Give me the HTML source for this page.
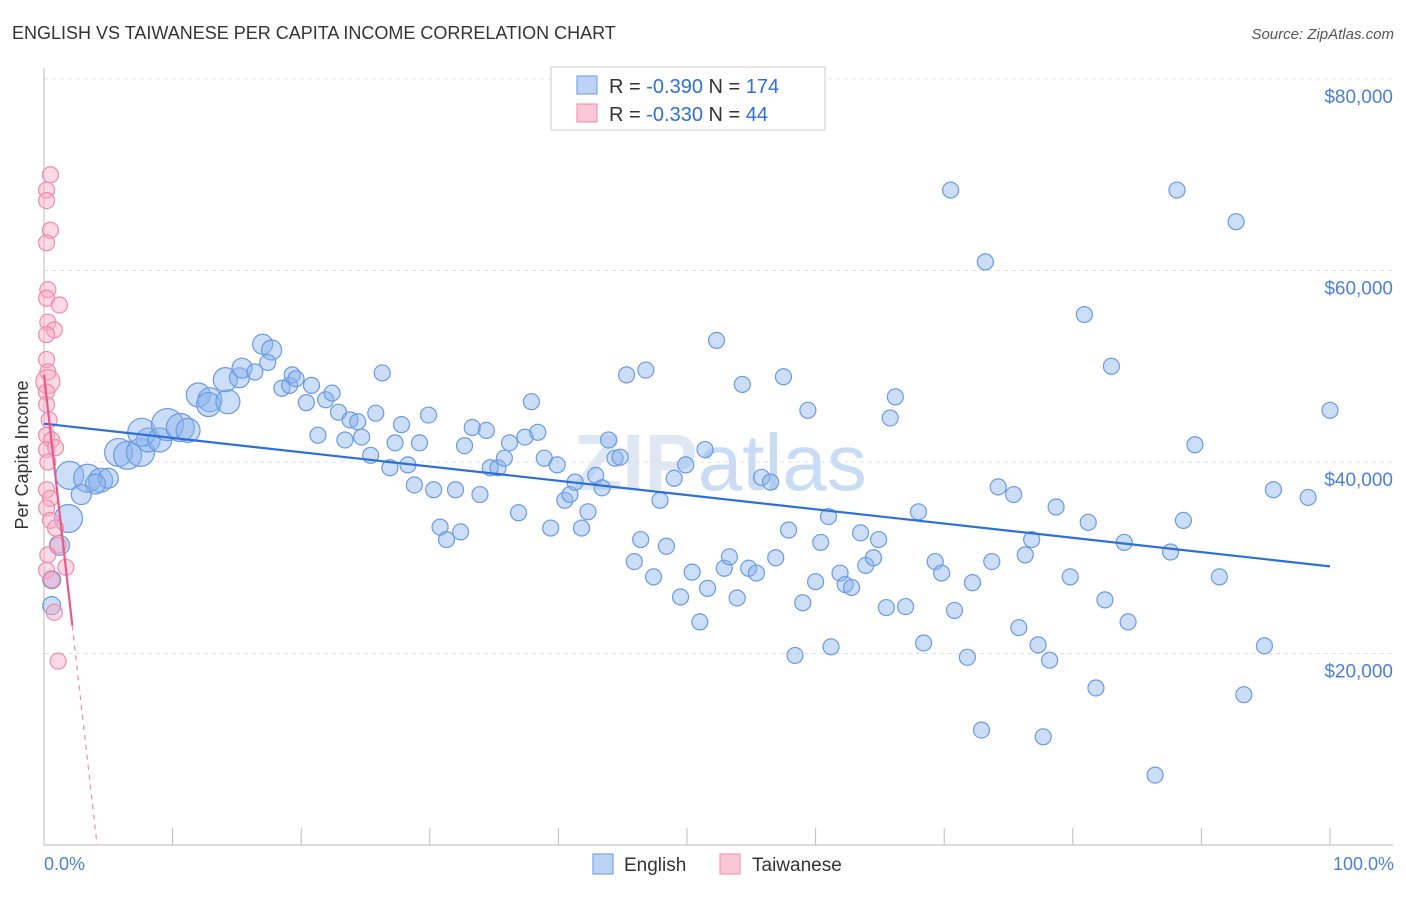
<!DOCTYPE html>
<html><head><meta charset="utf-8"><style>
body{margin:0;background:#fff;font-family:"Liberation Sans",sans-serif}
svg text{font-family:"Liberation Sans",sans-serif}
</style></head><body>
<svg id="chart" width="1406" height="892" xmlns="http://www.w3.org/2000/svg">
<text x="12" y="39" font-size="18" fill="#333">ENGLISH VS TAIWANESE PER CAPITA INCOME CORRELATION CHART</text>
<text x="1394" y="39" font-size="15" fill="#555" font-style="italic" text-anchor="end">Source: ZipAtlas.com</text>
<text x="720" y="490" font-size="80" fill="#dfe7f2" text-anchor="middle" font-weight="bold">ZIP<tspan font-weight="normal" fill="#c9dcf3">atlas</tspan></text>
<g id="grid"></g>
<g id="axes"></g>
<g id="pts"></g>
<g id="trends"></g>
<text x="28" y="455" font-size="18" fill="#333" text-anchor="middle" transform="rotate(-90 28 455)">Per Capita Income</text>
<text x="44" y="870" font-size="18" fill="#4a80d8">0.0%</text>
<text x="1394" y="870" font-size="18" fill="#4a80d8" text-anchor="end">100.0%</text>
<g>
<rect x="551" y="67" width="274" height="63" fill="#fff" stroke="#ccc"/>
<rect x="577" y="76" width="20" height="18" fill="#bcd3f5" stroke="#6a9ae0"/>
<rect x="577" y="104" width="20" height="18" fill="#fbc8d7" stroke="#f08aaa"/>
<text x="609" y="93" font-size="20" fill="#333">R = <tspan fill="#2c6fd6">-0.390</tspan>   N = <tspan fill="#2c6fd6">174</tspan></text>
<text x="609" y="121" font-size="20" fill="#333">R = <tspan fill="#2c6fd6">-0.330</tspan>   N =  <tspan fill="#2c6fd6"> 44</tspan></text>
</g>
<g>
<rect x="593" y="854" width="20" height="20" fill="#bcd3f5" stroke="#6a9ae0"/>
<text x="624" y="871" font-size="19" fill="#333">English</text>
<rect x="720" y="854" width="20" height="20" fill="#fbc8d7" stroke="#f08aaa"/>
<text x="752" y="871" font-size="19" fill="#333">Taiwanese</text>
</g>
</svg>
<script>
const yTicks=[20000,40000,60000,80000];
const yTickLabels=["$20,000","$40,000","$60,000","$80,000"];
const engX=[1.9,1.2,0.6,0.6,2.0,3.4,4.4,5.0,4.0,2.9,5.8,6.5,7.5,8.1,7.6,9.0,9.6,10.6,11.2,12.0,12.9,12.8,14.3,14.1,15.2,15.4,16.4,17.0,17.7,17.4,18.5,19.1,19.3,19.6,20.8,20.4,21.3,21.9,22.4,22.9,23.8,24.4,23.4,24.7,25.4,25.8,26.3,26.9,27.3,27.8,28.3,28.8,29.2,29.9,30.3,30.8,31.3,32.0,32.4,32.7,33.3,33.9,34.4,34.7,35.3,35.8,36.2,36.9,37.4,37.9,38.4,38.9,39.4,39.9,40.5,40.9,41.3,41.8,42.3,42.9,43.4,43.9,44.4,44.8,45.3,45.9,46.4,46.8,47.4,47.9,48.4,49.0,49.5,49.9,50.4,51.0,51.4,51.6,52.3,52.9,53.3,53.9,54.3,54.8,55.4,55.8,56.5,56.9,57.5,57.9,58.4,59.0,59.4,60.0,60.4,61.0,61.2,61.9,62.3,62.8,63.5,63.9,64.5,64.9,65.5,65.8,66.2,67.0,68.0,68.4,69.3,69.8,70.5,70.8,71.8,72.2,72.9,73.2,73.7,74.2,75.4,75.8,76.3,76.8,77.3,77.7,78.2,78.7,79.8,80.9,81.2,81.8,82.5,83.0,84.0,84.3,86.4,87.6,88.1,88.6,89.5,91.4,92.7,93.3,94.9,95.6,98.3,100];
const engY=[34.1,31.3,25.0,27.7,38.6,38.3,38.1,38.3,37.7,36.6,41.0,40.7,41.0,42.3,43.1,42.3,43.9,43.6,43.3,47.0,46.5,46.0,46.3,48.6,48.8,49.8,49.4,52.3,51.7,50.4,47.7,48.0,49.1,48.7,48.0,46.2,42.8,46.5,47.2,45.2,44.4,44.2,42.3,42.6,40.7,45.1,49.3,39.4,42.0,43.9,39.7,37.6,42.0,44.9,37.1,33.2,31.9,37.1,32.7,41.7,43.6,36.6,43.3,39.4,39.4,40.4,42.0,34.7,42.6,46.3,43.1,40.4,33.1,39.7,36.0,36.6,37.9,33.1,34.8,38.6,37.3,42.3,40.4,40.5,49.1,29.6,31.9,49.6,28.0,36.0,31.2,38.3,25.9,39.7,28.5,23.3,41.3,26.8,52.7,28.9,30.1,25.8,48.1,28.9,28.4,38.4,37.9,30.0,48.9,32.9,19.8,25.3,45.4,27.5,31.6,34.3,20.7,28.4,27.2,26.9,32.6,29.2,30.0,31.9,24.8,44.6,46.8,24.9,34.8,21.1,29.6,28.4,68.4,24.5,19.6,27.4,12.0,60.9,29.6,37.4,36.6,22.7,30.3,31.9,20.9,11.3,19.3,35.3,28.0,55.4,33.7,16.4,25.6,50.0,31.6,23.3,7.3,30.6,68.4,33.9,41.8,28.0,65.1,15.7,20.8,37.1,36.3,45.4];
const engSize=[14,10,9,9,14,14,12,10,10,10,14,14,14,12,14,12,16,14,12,12,12,12,12,12,10,10,8,10,10,8];
const twX=[0.5,0.2,0.2,0.5,0.2,0.3,0.2,1.2,0.3,0.8,0.2,0.2,0.3,0.3,0.2,0.2,0.4,0.2,0.6,0.2,0.9,0.3,0.2,0.5,0.2,0.5,0.9,1.1,0.3,0.2,1.7,0.6,0.8,1.1];
const twY=[70.0,68.4,67.3,64.2,62.9,58.0,57.1,56.4,54.6,53.8,53.3,50.7,49.4,48.4,47.3,46.0,44.4,42.8,42.3,41.3,41.5,40.0,37.1,36.2,35.2,33.9,33.1,31.3,30.3,28.7,29.0,27.7,24.3,19.2];
const twSize=[8,8,8,8,8,8,8,8,8,8,8,8,8,12,8,8,8,8,8,8,8,8,8,8,8,8,8,8,8,8,8,8,8,8];
const engTrend=[44.0,29.1];
const twTrend=[49.1,-11.9];
const NS="http://www.w3.org/2000/svg";
const X=v=>44+v*12.86, Y=v=>845-v/20000*191.5, YK=v=>Y(v*1000);
function mk(t,a,p){const e=document.createElementNS(NS,t);for(const k in a)e.setAttribute(k,a[k]);p.appendChild(e);return e;}
const grid=document.getElementById('grid'),axes=document.getElementById('axes');
yTicks.forEach((t,i)=>{
 const l=mk('line',{x1:44,x2:1393,y1:Y(t),y2:Y(t),stroke:'#dde',"stroke-dasharray":'4,4'},grid);
 
 
 const tx=mk('text',{x:1393,y:Y(t)+24,"font-size":19,fill:'#4a80d8',"text-anchor":'end'},axes);
 tx.textContent=yTickLabels[i];
 
 
});
mk('line',{x1:44,x2:44,y1:68,y2:845,stroke:'#bbb'},axes);
mk('line',{x1:44,x2:1393,y1:845,y2:845,stroke:'#bbb'},axes);
for(let i=1;i<=10;i++){const t=mk('line',{x1:X(i*10),x2:X(i*10),y1:828,y2:845,stroke:'#bbb'},axes);
 
 }
const pts=document.getElementById('pts');
engX.forEach((x,i)=>{const c=mk('circle',{cx:X(x),cy:YK(engY[i]),r:engSize[i]||8,fill:'rgba(140,180,238,0.45)',stroke:'#6a9ae0',"stroke-width":1.2},pts);
 
 });
twX.forEach((x,i)=>{const c=mk('circle',{cx:X(x),cy:YK(twY[i]),r:twSize[i],fill:'rgba(248,170,195,0.45)',stroke:'#f08aaa',"stroke-width":1.2},pts);
 
 });
const tr=document.getElementById('trends');
const e=mk('line',{x1:X(0),y1:YK(engTrend[0]),x2:X(100),y2:YK(engTrend[1]),stroke:'#2c6fd6',"stroke-width":2.2},tr);


const tEnd=2.2, tZero=-twTrend[0]/twTrend[1];
const p1=mk('line',{x1:X(0),y1:YK(twTrend[0]),x2:X(tEnd),y2:YK(twTrend[0]+twTrend[1]*tEnd),stroke:'#e85a8a',"stroke-width":2.2},tr);


const p2=mk('line',{x1:X(tEnd),y1:YK(twTrend[0]+twTrend[1]*tEnd),x2:X(tZero),y2:YK(0),stroke:'#f08aaa',"stroke-width":1.2,"stroke-dasharray":'5,5'},tr);


</script>
</body></html>
